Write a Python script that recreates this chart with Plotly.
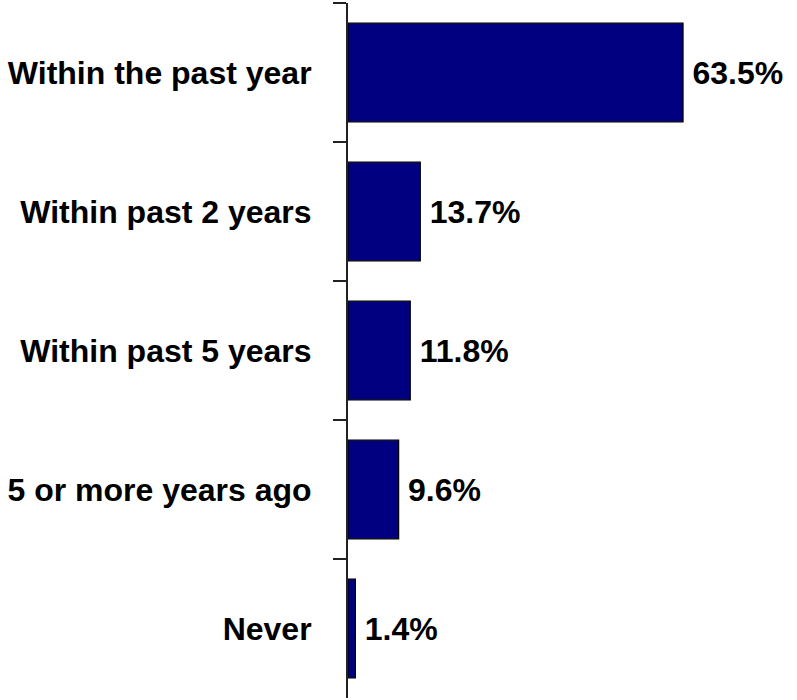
import plotly.graph_objects as go

categories = ["Within the past year", "Within past 2 years", "Within past 5 years",
              "5 or more years ago", "Never"]
values = [63.5, 13.7, 11.8, 9.6, 1.4]
labels = ["63.5%", "13.7%", "11.8%", "9.6%", "1.4%"]

FONT = "Arial, Liberation Sans, sans-serif"

fig = go.Figure(go.Bar(
    y=categories, x=values, orientation="h",
    marker=dict(color="#000080", line=dict(color="#000000", width=1.2)),
    width=0.71,
    text=["\u2009" + t for t in labels], textposition="outside", cliponaxis=False,
    textfont=dict(family=FONT, size=32, color="black", weight="bold"),
))

fig.update_layout(
    width=797, height=700,
    margin=dict(l=348, r=0, t=3, b=2),
    paper_bgcolor="white", plot_bgcolor="white",
    showlegend=False,
    font=dict(family=FONT),
)
fig.update_xaxes(visible=False, range=[0, 85.1], automargin=False)
fig.update_yaxes(
    autorange="reversed", automargin=False,
    showline=True, linecolor="#222222", linewidth=2,
    ticks="outside", tickson="boundaries", ticklen=13, tickcolor="#222222", tickwidth=2,
    ticklabelstandoff=28,
    tickfont=dict(family=FONT, size=32, color="black", weight="bold"),
    showgrid=False, zeroline=False,
)

fig.write_html("out.html", config={"displayModeBar": False},
               post_script="document.body.style.margin='0px';")
